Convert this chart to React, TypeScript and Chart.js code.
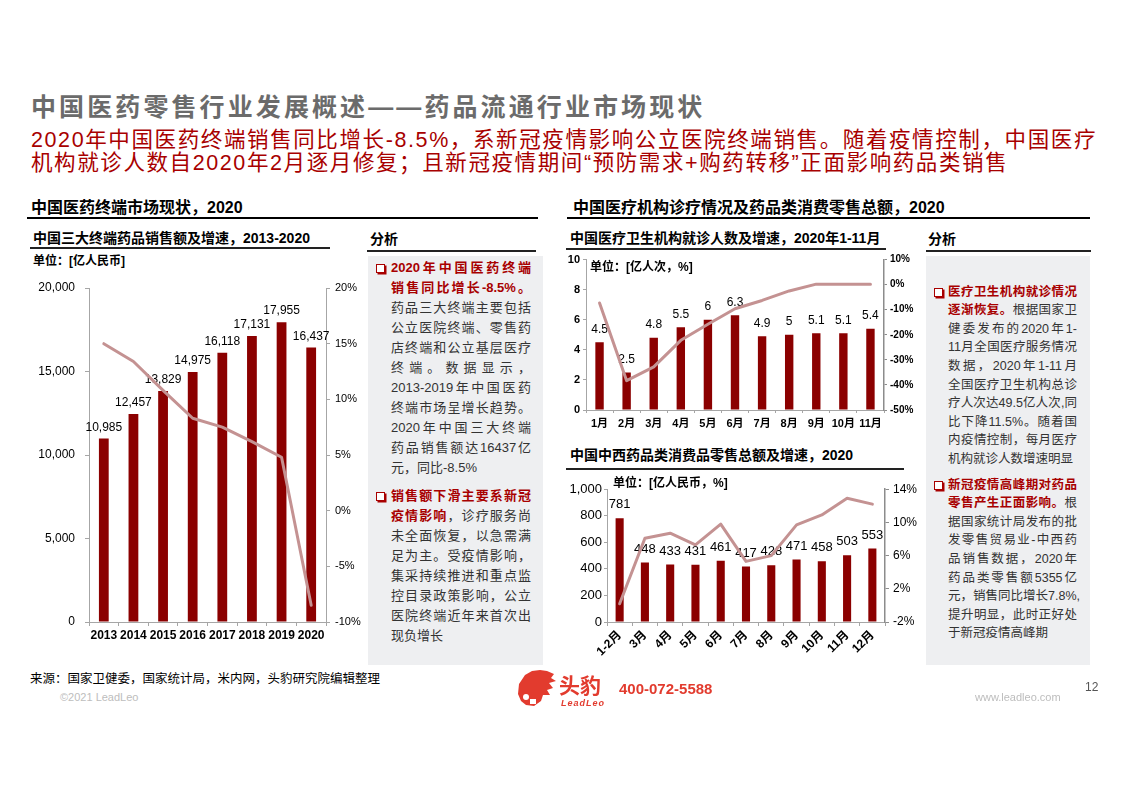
import React, { useEffect, useRef } from "react";
import { Chart, registerables } from "chart.js";
Chart.register(...registerables);

const F = '"Liberation Sans", "Noto Sans CJK SC", sans-serif';
Chart.defaults.font.family = F;

// ---------- data ----------
const years = ["2013", "2014", "2015", "2016", "2017", "2018", "2019", "2020"];
const terminalSales = [10985, 12457, 13829, 14975, 16118, 17131, 17955, 16437];
const terminalGrowth = [15.0, 13.4, 10.8, 8.3, 7.5, 6.2, 4.8, -8.5];

const visitMonths = ["1月", "2月", "3月", "4月", "5月", "6月", "7月", "8月", "9月", "10月", "11月"];
const visits = [4.5, 2.5, 4.8, 5.5, 6, 6.3, 4.9, 5, 5.1, 5.1, 5.4];
const visitGrowth = [-7.3, -38.3, -32.8, -22.2, -15.8, -9.6, -6.3, -2.5, 0.2, 0.2, 0.2];

const retailMonths = ["1-2月", "3月", "4月", "5月", "6月", "7月", "8月", "9月", "10月", "11月", "12月"];
const retailSales = [781, 448, 433, 431, 461, 417, 428, 471, 458, 503, 553];
const retailGrowth = [0.2, 8.1, 8.7, 7.3, 9.8, 5.3, 6.0, 9.7, 10.9, 12.9, 12.2];

const leftNote1 = [
  "*2020年中国医药终端*",
  "*销售同比增长-8.5%。*",
  "药品三大终端主要包括",
  "公立医院终端、零售药",
  "店终端和公立基层医疗",
  "终端。数据显示，",
  "2013-2019年中国医药",
  "终端市场呈增长趋势。",
  "2020年中国三大终端",
  "药品销售额达16437亿",
  "元，同比-8.5%",
];
const leftNote2 = [
  "*销售额下滑主要系新冠*",
  "*疫情影响*，诊疗服务尚",
  "未全面恢复，以急需满",
  "足为主。受疫情影响，",
  "集采持续推进和重点监",
  "控目录政策影响，公立",
  "医院终端近年来首次出",
  "现负增长",
];
const rightNote1 = [
  "*医疗卫生机构就诊情况*",
  "*逐渐恢复。*根据国家卫",
  "健委发布的2020年1-",
  "11月全国医疗服务情况",
  "数据，2020年1-11月",
  "全国医疗卫生机构总诊",
  "疗人次达49.5亿人次,同",
  "比下降11.5%。随着国",
  "内疫情控制，每月医疗",
  "机构就诊人数增速明显",
];
const rightNote2 = [
  "*新冠疫情高峰期对药品*",
  "*零售产生正面影响。*根",
  "据国家统计局发布的批",
  "发零售贸易业-中西药",
  "品销售数据，2020年",
  "药品类零售额5355亿",
  "元，销售同比增长7.8%,",
  "提升明显，此时正好处",
  "于新冠疫情高峰期",
];

// ---------- styles ----------
const BAR = "#8B0000";
const LINE = "#C49292";
const RED = "#A80000";
const AXIS = "#A6A6A6";

const fmtComma = (v: number) => Number(v).toLocaleString("en-US");
const fmtPct = (v: number) => `${v}%`;
const fmtRaw = (v: number) => `${v}`;

interface AxisSpec {
  min: number; max: number; step: number; fmt: (v: number) => string;
  font: any; tick: number; pad: number; width: number; color: string; bw: number;
}

function combo(o: {
  labels: string[]; bars: number[]; line: number[];
  left: AxisSpec; right: AxisSpec;
  xFont: any; xTick: number; xPad: number; xHeight: number; rotate: number;
  top: number; barPct: number;
  labelFont: string; labelOff: number; labelFmt: (v: number) => string;
}) {
  const labelPlugin = {
    id: "barLabels",
    afterDatasetDraw(chart: any, args: any) {
      if (args.index !== 1) return;
      const meta = chart.getDatasetMeta(1);
      const ctx = chart.ctx;
      ctx.save();
      ctx.font = o.labelFont;
      ctx.fillStyle = "#000";
      ctx.textAlign = "center";
      ctx.textBaseline = "bottom";
      meta.data.forEach((el: any, i: number) => {
        ctx.fillText(o.labelFmt(o.bars[i]), el.x, el.y - o.labelOff);
      });
      ctx.restore();
    },
  };
  const yAxis = (a: AxisSpec, pos: "left" | "right") => ({
    position: pos,
    min: a.min,
    max: a.max,
    ticks: { stepSize: a.step, callback: (v: any) => a.fmt(Number(v)), font: a.font, color: "#000", padding: a.pad },
    grid: { display: true, drawOnChartArea: false, drawTicks: true, tickLength: a.tick, color: a.color },
    border: { display: true, color: a.color, width: a.bw },
    afterFit: (s: any) => { s.width = a.width; },
  });
  return {
    type: "bar",
    data: {
      labels: o.labels,
      datasets: [
        {
          type: "line", data: o.line, yAxisID: "yR", borderColor: LINE, borderWidth: 3,
          pointRadius: 0, tension: 0, order: 0, borderJoinStyle: "round", borderCapStyle: "round",
        },
        {
          type: "bar", data: o.bars, yAxisID: "yL", backgroundColor: BAR,
          barPercentage: o.barPct, categoryPercentage: 1, order: 1,
        },
      ],
    },
    options: {
      responsive: false,
      animation: false,
      layout: { padding: { top: o.top, left: 0, right: 0, bottom: 0 } },
      plugins: { legend: { display: false }, tooltip: { enabled: false } },
      scales: {
        x: {
          offset: true,
          grid: { display: true, offset: true, drawOnChartArea: false, drawTicks: true, tickLength: o.xTick, color: AXIS },
          border: { display: true, color: AXIS, width: 1 },
          ticks: { color: "#000", font: o.xFont, padding: o.xPad, autoSkip: false, maxRotation: o.rotate, minRotation: o.rotate },
          afterFit: (s: any) => { s.height = o.xHeight; },
        },
        yL: yAxis(o.left, "left"),
        yR: yAxis(o.right, "right"),
      },
    },
    plugins: [labelPlugin],
  } as any;
}

function ChartCanvas({ x, y, w, h, make }: { x: number; y: number; w: number; h: number; make: () => any }) {
  const ref = useRef<HTMLCanvasElement>(null);
  useEffect(() => {
    const c = new Chart(ref.current!, make());
    return () => c.destroy();
  }, []);
  return <canvas ref={ref} width={w} height={h} style={{ position: "absolute", left: x, top: y, width: w, height: h }} />;
}

function T({ x, y, size, children, bold, color, style }: any) {
  const lh = Math.round(size * 1.4);
  return (
    <div style={{
      position: "absolute", left: x, top: y - lh / 2, fontSize: size, lineHeight: `${lh}px`,
      fontWeight: bold ? "bold" : "normal", color: color || "#000", whiteSpace: "nowrap", ...style,
    }}>{children}</div>
  );
}

function Rule({ x, y, w, h, color }: any) {
  return <div style={{ position: "absolute", left: x, top: y, width: w, height: h, background: color || "#000" }} />;
}

function renderLine(s: string) {
  return s.split("*").map((p, i) =>
    i % 2 === 1 ? <span key={i} style={{ color: RED, fontWeight: "bold" }}>{p}</span> : <span key={i}>{p}</span>
  );
}

function Note({ x, y, w, size, lh, lines, bulletX }: any) {
  return (
    <>
      <div style={{
        position: "absolute", left: bulletX, top: y - 4, width: 7, height: 7,
        border: `1.3px solid ${RED}`, boxShadow: `1.5px 1.5px 0 ${RED}`, background: "#fff",
      }} />
      <div style={{ position: "absolute", left: x, top: y - lh / 2, width: w, fontSize: size, lineHeight: `${lh}px`, color: "#333" }}>
        {lines.map((l: string, i: number) => (
          <div key={i} style={{
            whiteSpace: "nowrap", height: lh,
            textAlign: "justify", textAlignLast: i === lines.length - 1 ? "left" : "justify",
          } as any}>{renderLine(l)}</div>
        ))}
      </div>
    </>
  );
}

export default function App() {
  useEffect(() => {
    document.body.style.margin = "0";
  }, []);

  const c1 = () => combo({
    labels: years, bars: terminalSales, line: terminalGrowth,
    left: { min: 0, max: 20000, step: 5000, fmt: fmtComma, font: { size: 12 }, tick: 4, pad: 10, width: 59, color: AXIS, bw: 1 },
    right: { min: -10, max: 20, step: 5, fmt: fmtPct, font: { size: 11 }, tick: 4, pad: 5, width: 39, color: AXIS, bw: 1 },
    xFont: { size: 12, weight: "bold" }, xTick: 4, xPad: 2, xHeight: 28, rotate: 0,
    top: 18, barPct: 0.33,
    labelFont: `12px ${F}`, labelOff: 5, labelFmt: fmtComma,
  });
  const c2 = () => combo({
    labels: visitMonths, bars: visits, line: visitGrowth,
    left: { min: 0, max: 10, step: 2, fmt: fmtRaw, font: { size: 11, weight: "bold" }, tick: 3, pad: 3, width: 21, color: AXIS, bw: 1 },
    right: { min: -50, max: 10, step: 10, fmt: fmtPct, font: { size: 10, weight: "bold" }, tick: 3, pad: 3, width: 36, color: "#8C8C8C", bw: 1.5 },
    xFont: { size: 11, weight: "bold" }, xTick: 3, xPad: 4, xHeight: 25, rotate: 0,
    top: 7, barPct: 0.31,
    labelFont: `12px ${F}`, labelOff: 7, labelFmt: fmtRaw,
  });
  const c3 = () => combo({
    labels: retailMonths, bars: retailSales, line: retailGrowth,
    left: { min: 0, max: 1000, step: 200, fmt: fmtComma, font: { size: 13 }, tick: 3, pad: 2, width: 42, color: AXIS, bw: 1 },
    right: { min: -2, max: 14, step: 4, fmt: fmtPct, font: { size: 12 }, tick: 4, pad: 4, width: 35, color: "#8C8C8C", bw: 1.5 },
    xFont: { size: 12, weight: "bold" }, xTick: 4, xPad: 2, xHeight: 51, rotate: 45,
    top: 10, barPct: 0.32,
    labelFont: `13px ${F}`, labelOff: 7, labelFmt: fmtRaw,
  });

  return (
    <div style={{ position: "absolute", left: 0, top: 0, width: 1123, height: 794, overflow: "hidden", background: "#fff", fontFamily: F }}>
      {/* Title */}
      <T x={31} y={107} size={25} bold color="#6B6B6B" style={{ letterSpacing: 3.1 }}>中国医药零售行业发展概述——药品流通行业市场现状</T>
      <div style={{ position: "absolute", left: 31, top: 128.5, width: 1066, fontSize: 21.5, lineHeight: "23px", color: RED, letterSpacing: 1.6 }}>
        <div style={{ whiteSpace: "nowrap", textAlign: "justify", textAlignLast: "justify" } as any}>
          2020年中国医药终端销售同比增长-8.5%，系新冠疫情影响公立医院终端销售。随着疫情控制，中国医疗
        </div>
        <div style={{ whiteSpace: "nowrap" }}>机构就诊人数自2020年2月逐月修复；且新冠疫情期间“预防需求+购药转移”正面影响药品类销售</div>
      </div>

      {/* Section headers */}
      <T x={31} y={208} size={16} bold>中国医药终端市场现状，2020</T>
      <Rule x={27} y={217} w={511} h={2} />
      <T x={573} y={208} size={16} bold>中国医疗机构诊疗情况及药品类消费零售总额，2020</T>
      <Rule x={567} y={217} w={523} h={2} />

      {/* Chart 1 */}
      <T x={33} y={238} size={14} bold>中国三大终端药品销售额及增速，2013-2020</T>
      <Rule x={30} y={247} w={300} h={1.5} color="#222" />
      <T x={33} y={261} size={12} bold>单位：[亿人民币]</T>
      <ChartCanvas x={30} y={270} w={335} h={380} make={c1} />

      {/* Left analysis */}
      <T x={370} y={239} size={14} bold>分析</T>
      <Rule x={367} y={250} w={169} h={1.5} color="#222" />
      <div style={{ position: "absolute", left: 368, top: 256, width: 175, height: 409, background: "#EEEFF1" }} />
      <Note x={391} y={268} w={140} size={13} lh={20} lines={leftNote1} bulletX={376} />
      <Note x={391} y={496} w={140} size={13} lh={20} lines={leftNote2} bulletX={376} />

      {/* Chart 2 */}
      <T x={570} y={238} size={14} bold>中国医疗卫生机构就诊人数及增速，2020年1-11月</T>
      <Rule x={566} y={248} w={320} h={1.5} color="#222" />
      <ChartCanvas x={565} y={250} w={355} h={185} make={c2} />
      <T x={590} y={267} size={12} bold>单位：[亿人次，%]</T>

      {/* Chart 3 */}
      <T x={570} y={455} size={14} bold>中国中西药品类消费品零售总额及增速，2020</T>
      <Rule x={566} y={468} w={338} h={1.5} color="#222" />
      <ChartCanvas x={565} y={478} w={355} h={195} make={c3} />
      <T x={613} y={483} size={12} bold>单位：[亿人民币，%]</T>

      {/* Right analysis */}
      <T x={928} y={239} size={14} bold>分析</T>
      <Rule x={926} y={250} w={165} h={1.5} color="#222" />
      <div style={{ position: "absolute", left: 926, top: 256, width: 164, height: 409, background: "#EEEFF1" }} />
      <Note x={948} y={292} w={129} size={12.5} lh={18.6} lines={rightNote1} bulletX={934} />
      <Note x={948} y={485} w={129} size={12.5} lh={18.6} lines={rightNote2} bulletX={934} />

      {/* Footer */}
      <T x={30} y={679} size={12.5}>来源：国家卫健委，国家统计局，米内网，头豹研究院编辑整理</T>
      <T x={60} y={697} size={11} color="#BDBDBD">©2021 LeadLeo</T>
      <svg style={{ position: "absolute", left: 516, top: 668 }} width={42} height={40} viewBox="0 0 42 40">
        <path d="M3 16 L9 7 L16 3 L24 2 L31 3 L38 6 L35 10 L40 13 L33 15 L37 20 L31 22 L34 27 L27 27 L25 33 L18 38 L10 37 L5 33 L2 26 Z" fill="#E23B2E" />
        <circle cx="10" cy="29" r="3" fill="#fff" />
        <rect x="14" y="31" width="6" height="5" fill="#fff" />
      </svg>
      <T x={559} y={685} size={21} bold color="#E23B2E">头豹</T>
      <T x={561} y={703} size={9} bold color="#E23B2E" style={{ fontStyle: "italic", letterSpacing: 1 }}>LeadLeo</T>
      <T x={619} y={688} size={15} bold color="#E23B2E">400-072-5588</T>
      <T x={975} y={697} size={11} color="#BDBDBD">www.leadleo.com</T>
      <T x={1085} y={687} size={12} color="#555">12</T>
    </div>
  );
}
